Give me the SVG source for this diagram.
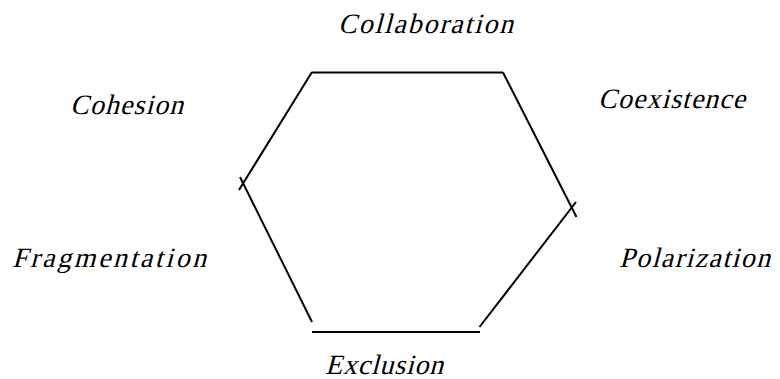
<svg xmlns="http://www.w3.org/2000/svg" width="780" height="379" viewBox="0 0 780 379">
<style>
.lbl{font-family:"Liberation Serif","Times New Roman",serif;font-size:28px;fill:#000}
.edge{stroke:#000;stroke-width:2;fill:none;stroke-linecap:butt}
</style>
<rect width="780" height="379" fill="#fff"/>
<g id="connectors">
<line class="edge" x1="312" y1="72.5" x2="503" y2="72.5"/>
<line class="edge" x1="503" y1="72.5" x2="576.5" y2="217"/>
<line class="edge" x1="576" y1="202" x2="479.5" y2="327"/>
<line class="edge" x1="480" y1="332" x2="312" y2="332"/>
<line class="edge" x1="312" y1="322" x2="240" y2="177"/>
<line class="edge" x1="239" y1="190" x2="312" y2="72"/>
</g>
<g id="collaboration" transform="translate(338,32.5) skewX(-15)"><text class="lbl" x="0" y="0" textLength="175" lengthAdjust="spacing">Collaboration</text></g>
<g id="cohesion" transform="translate(70,114) skewX(-15)"><text class="lbl" x="0" y="0" textLength="113" lengthAdjust="spacing">Cohesion</text></g>
<g id="coexistence" transform="translate(598,108) skewX(-15)"><text class="lbl" x="0" y="0" textLength="147" lengthAdjust="spacing">Coexistence</text></g>
<g id="fragmentation" transform="translate(12,267) skewX(-15)"><text class="lbl" x="0" y="0" textLength="194" lengthAdjust="spacing">Fragmentation</text></g>
<g id="polarization" transform="translate(619,267) skewX(-15)"><text class="lbl" x="0" y="0" textLength="151" lengthAdjust="spacing">Polarization</text></g>
<g id="exclusion" transform="translate(325,374) skewX(-15)"><text class="lbl" x="0" y="0" textLength="118" lengthAdjust="spacing">Exclusion</text></g>
</svg>
